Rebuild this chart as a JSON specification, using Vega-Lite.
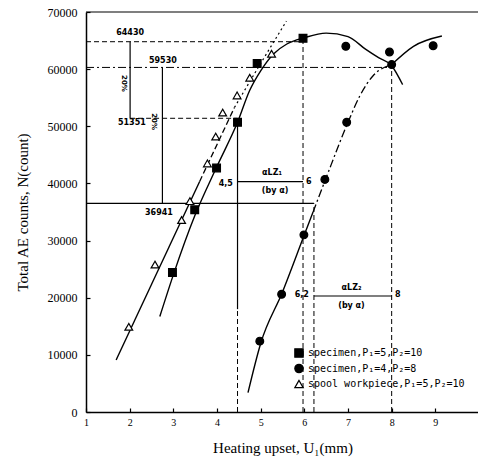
{
  "$schema": "https://vega.github.io/schema/vega-lite/v6.json",
  "width": 393,
  "height": 400,
  "autosize": "none",
  "padding": {"left": 86, "top": 12, "right": 0, "bottom": 46},
  "background": "white",
  "config": {"view": {"stroke": null}, "font": "Liberation Serif"},
  "datasets": {
    "points": [
      {"u": 2.98, "n": 24400, "series": "specimen,P₁=5,P₂=10"},
      {"u": 3.49, "n": 35400, "series": "specimen,P₁=5,P₂=10"},
      {"u": 3.99, "n": 42700, "series": "specimen,P₁=5,P₂=10"},
      {"u": 4.47, "n": 50700, "series": "specimen,P₁=5,P₂=10"},
      {"u": 4.92, "n": 61000, "series": "specimen,P₁=5,P₂=10"},
      {"u": 5.97, "n": 65400, "series": "specimen,P₁=5,P₂=10"},
      {"u": 4.98, "n": 12400, "series": "specimen,P₁=4,P₂=8"},
      {"u": 5.48, "n": 20600, "series": "specimen,P₁=4,P₂=8"},
      {"u": 5.99, "n": 31000, "series": "specimen,P₁=4,P₂=8"},
      {"u": 6.47, "n": 40700, "series": "specimen,P₁=4,P₂=8"},
      {"u": 6.97, "n": 50700, "series": "specimen,P₁=4,P₂=8"},
      {"u": 6.95, "n": 64000, "series": "specimen,P₁=4,P₂=8"},
      {"u": 7.95, "n": 63000, "series": "specimen,P₁=4,P₂=8"},
      {"u": 8.0, "n": 60800, "series": "specimen,P₁=4,P₂=8"},
      {"u": 8.95, "n": 64100, "series": "specimen,P₁=4,P₂=8"},
      {"u": 1.98, "n": 14900, "series": "spool workpiece,P₁=5,P₂=10"},
      {"u": 2.58, "n": 25800, "series": "spool workpiece,P₁=5,P₂=10"},
      {"u": 3.19, "n": 33600, "series": "spool workpiece,P₁=5,P₂=10"},
      {"u": 3.38, "n": 36900, "series": "spool workpiece,P₁=5,P₂=10"},
      {"u": 3.78, "n": 43500, "series": "spool workpiece,P₁=5,P₂=10"},
      {"u": 3.97, "n": 48200, "series": "spool workpiece,P₁=5,P₂=10"},
      {"u": 4.13, "n": 52400, "series": "spool workpiece,P₁=5,P₂=10"},
      {"u": 4.46, "n": 55400, "series": "spool workpiece,P₁=5,P₂=10"},
      {"u": 4.75, "n": 58500, "series": "spool workpiece,P₁=5,P₂=10"},
      {"u": 5.25, "n": 62700, "series": "spool workpiece,P₁=5,P₂=10"}
    ],
    "curves_solid": [
      {"u": 1.69, "n": 9100, "curve": "tri"},
      {"u": 3.6, "n": 40300, "curve": "tri"},
      {"u": 2.69, "n": 16700, "curve": "sq"},
      {"u": 3.0, "n": 24000, "curve": "sq"},
      {"u": 3.5, "n": 34500, "curve": "sq"},
      {"u": 4.0, "n": 43000, "curve": "sq"},
      {"u": 4.47, "n": 50700, "curve": "sq"},
      {"u": 4.75, "n": 56300, "curve": "sq"},
      {"u": 5.0, "n": 59700, "curve": "sq"},
      {"u": 5.3, "n": 62700, "curve": "sq"},
      {"u": 5.6, "n": 64400, "curve": "sq"},
      {"u": 6.0, "n": 65500, "curve": "sq"},
      {"u": 6.5, "n": 66300, "curve": "sq"},
      {"u": 7.0, "n": 65700, "curve": "sq"},
      {"u": 7.4, "n": 63500, "curve": "sq"},
      {"u": 7.7, "n": 62000, "curve": "sq"},
      {"u": 8.0, "n": 60600, "curve": "sq"},
      {"u": 8.25, "n": 57300, "curve": "sq"},
      {"u": 4.71, "n": 3400, "curve": "circ_low"},
      {"u": 5.0, "n": 12000, "curve": "circ_low"},
      {"u": 5.5, "n": 21000, "curve": "circ_low"},
      {"u": 6.0, "n": 31000, "curve": "circ_low"},
      {"u": 6.2, "n": 35000, "curve": "circ_low"},
      {"u": 8.0, "n": 60800, "curve": "circ_high"},
      {"u": 8.5, "n": 64000, "curve": "circ_high"},
      {"u": 9.15, "n": 65800, "curve": "circ_high"}
    ],
    "curves_dashed": [
      {"u": 3.6, "n": 40300, "curve": "tri_mid"},
      {"u": 4.4, "n": 53300, "curve": "tri_mid"}
    ],
    "curves_dotted": [
      {"u": 4.4, "n": 53300, "curve": "tri_top"},
      {"u": 5.0, "n": 61000, "curve": "tri_top"},
      {"u": 5.59, "n": 68400, "curve": "tri_top"}
    ],
    "curves_dashdot": [
      {"u": 6.2, "n": 35000, "curve": "circ_mid"},
      {"u": 6.5, "n": 41000, "curve": "circ_mid"},
      {"u": 7.0, "n": 50700, "curve": "circ_mid"},
      {"u": 7.27, "n": 55300, "curve": "circ_mid"},
      {"u": 7.57, "n": 58800, "curve": "circ_mid"},
      {"u": 8.0, "n": 60800, "curve": "circ_mid"}
    ],
    "refs_solid": [
      {"u": 1, "u2": 10, "n": 70000, "n2": 70000},
      {"u": 2.01, "u2": 2.01, "n": 51400, "n2": 64800},
      {"u": 2.75, "u2": 2.75, "n": 36500, "n2": 60300},
      {"u": 1, "u2": 6.22, "n": 36500, "n2": 36500},
      {"u": 4.47, "u2": 4.47, "n": 18000, "n2": 50700},
      {"u": 4.47, "u2": 5.97, "n": 40300, "n2": 40300},
      {"u": 6.22, "u2": 8.0, "n": 20300, "n2": 20300}
    ],
    "refs_dashed": [
      {"u": 1, "u2": 5.97, "n": 64800, "n2": 64800},
      {"u": 2.01, "u2": 4.47, "n": 51400, "n2": 51400},
      {"u": 4.47, "u2": 4.47, "n": 0, "n2": 18000},
      {"u": 5.97, "u2": 5.97, "n": 0, "n2": 65400},
      {"u": 6.22, "u2": 6.22, "n": 0, "n2": 36500},
      {"u": 8.0, "u2": 8.0, "n": 0, "n2": 60800}
    ],
    "refs_dashdot": [
      {"u": 1, "u2": 8.0, "n": 60300, "n2": 60300}
    ],
    "notes": [
      {"u": 2.01, "n": 66400, "label": "64430"},
      {"u": 2.76, "n": 61340, "label": "59530"},
      {"u": 2.05, "n": 50500, "label": "51351"},
      {"u": 2.67, "n": 34880, "label": "36941"},
      {"u": 4.2, "n": 39960, "label": "4,5"},
      {"u": 6.1, "n": 40300, "label": "6"},
      {"u": 5.26, "n": 41880, "label": "αLZ₁"},
      {"u": 5.33, "n": 38640, "label": "(by α)"},
      {"u": 5.94, "n": 20390, "label": "6,2"},
      {"u": 8.14, "n": 20560, "label": "8"},
      {"u": 7.08, "n": 21740, "label": "αLZ₂"},
      {"u": 7.08, "n": 18520, "label": "(by α)"}
    ],
    "notes_rotated": [
      {"u": 1.88, "n": 57490, "label": "20%"},
      {"u": 2.56, "n": 50820, "label": "20%"}
    ]
  },
  "layer": [
    {
      "data": {"name": "refs_solid"},
      "mark": {"type": "rule", "color": "black", "strokeWidth": 1.2},
      "encoding": {
        "x": {"field": "u", "type": "quantitative", "scale": {"domain": [1, 10], "nice": false, "zero": false},
          "axis": {"values": [1, 2, 3, 4, 5, 6, 7, 8, 9], "format": "d", "grid": false,
            "title": "Heating upset, U₁(mm)", "titleFont": "Liberation Serif", "titleFontSize": 15, "titleFontWeight": "normal",
            "titleColor": "black", "titleY": 40, "titleBaseline": "alphabetic",
            "labelFont": "Liberation Serif", "labelFontSize": 10, "labelColor": "black", "labelPadding": 9, "labelFlush": false,
            "tickSize": -4, "tickColor": "black", "tickWidth": 1.2, "domainColor": "black", "domainWidth": 1.5}},
        "x2": {"field": "u2"},
        "y": {"field": "n", "type": "quantitative", "scale": {"domain": [0, 70000], "nice": false, "zero": false},
          "axis": {"values": [0, 5000, 10000, 15000, 20000, 25000, 30000, 35000, 40000, 45000, 50000, 55000, 60000, 65000, 70000],
            "labelExpr": "datum.value % 10000 === 0 ? datum.label : ''", "format": "d", "grid": false,
            "title": "Total AE counts, N(count)", "titleFont": "Liberation Serif", "titleFontSize": 15, "titleFontWeight": "normal",
            "titleColor": "black", "titleX": -59, "titleBaseline": "alphabetic",
            "labelFont": "Liberation Serif", "labelFontSize": 12, "labelColor": "black", "labelPadding": 13,
            "tickSize": -4, "tickColor": "black", "tickWidth": 1.2, "domainColor": "black", "domainWidth": 1.5}},
        "y2": {"field": "n2"}
      }
    },
    {
      "data": {"name": "refs_dashed"},
      "mark": {"type": "rule", "color": "black", "strokeWidth": 1, "strokeDash": [5, 3]},
      "encoding": {
        "x": {"field": "u", "type": "quantitative"},
        "x2": {"field": "u2"},
        "y": {"field": "n", "type": "quantitative"},
        "y2": {"field": "n2"}
      }
    },
    {
      "data": {"name": "refs_dashdot"},
      "mark": {"type": "rule", "color": "black", "strokeWidth": 1, "strokeDash": [8, 3, 2, 3]},
      "encoding": {
        "x": {"field": "u", "type": "quantitative"},
        "x2": {"field": "u2"},
        "y": {"field": "n", "type": "quantitative"},
        "y2": {"field": "n2"}
      }
    },
    {
      "data": {"name": "curves_solid"},
      "mark": {"type": "line", "color": "black", "strokeWidth": 1.4, "interpolate": "monotone"},
      "encoding": {
        "x": {"field": "u", "type": "quantitative"},
        "y": {"field": "n", "type": "quantitative"},
        "detail": {"field": "curve"}
      }
    },
    {
      "data": {"name": "curves_dashed"},
      "mark": {"type": "line", "color": "black", "strokeWidth": 1.3, "strokeDash": [6, 3]},
      "encoding": {
        "x": {"field": "u", "type": "quantitative"},
        "y": {"field": "n", "type": "quantitative"},
        "detail": {"field": "curve"}
      }
    },
    {
      "data": {"name": "curves_dotted"},
      "mark": {"type": "line", "color": "black", "strokeWidth": 1.2, "strokeDash": [2, 3], "interpolate": "monotone"},
      "encoding": {
        "x": {"field": "u", "type": "quantitative"},
        "y": {"field": "n", "type": "quantitative"},
        "detail": {"field": "curve"}
      }
    },
    {
      "data": {"name": "curves_dashdot"},
      "mark": {"type": "line", "color": "black", "strokeWidth": 1.3, "strokeDash": [8, 3, 2, 3], "interpolate": "monotone"},
      "encoding": {
        "x": {"field": "u", "type": "quantitative"},
        "y": {"field": "n", "type": "quantitative"},
        "detail": {"field": "curve"}
      }
    },
    {
      "data": {"name": "points"},
      "mark": {"type": "point", "filled": true, "strokeWidth": 1.2, "size": 60, "opacity": 1},
      "encoding": {
        "x": {"field": "u", "type": "quantitative"},
        "y": {"field": "n", "type": "quantitative"},
        "shape": {"field": "series", "type": "nominal",
          "scale": {"domain": ["specimen,P₁=5,P₂=10", "specimen,P₁=4,P₂=8", "spool workpiece,P₁=5,P₂=10"], "range": ["square", "circle", "triangle-up"]},
          "legend": {"orient": "none", "legendX": 208, "legendY": 336, "title": null, "padding": 0,
            "labelFont": "DejaVu Sans Mono", "labelFontSize": 10, "labelColor": "black", "labelOffset": 4,
            "symbolSize": 70, "rowPadding": 1.5, "symbolStrokeWidth": 1.2, "symbolOpacity": 1}},
        "fill": {"field": "series", "type": "nominal",
          "scale": {"domain": ["specimen,P₁=5,P₂=10", "specimen,P₁=4,P₂=8", "spool workpiece,P₁=5,P₂=10"], "range": ["black", "black", "white"]}},
        "stroke": {"field": "series", "type": "nominal",
          "scale": {"domain": ["specimen,P₁=5,P₂=10", "specimen,P₁=4,P₂=8", "spool workpiece,P₁=5,P₂=10"], "range": ["black", "black", "black"]}}
      }
    },
    {
      "data": {"name": "notes"},
      "mark": {"type": "text", "color": "black", "font": "DejaVu Sans", "fontSize": 8, "fontWeight": "bold", "align": "center", "baseline": "middle"},
      "encoding": {
        "x": {"field": "u", "type": "quantitative"},
        "y": {"field": "n", "type": "quantitative"},
        "text": {"field": "label"}
      }
    },
    {
      "data": {"name": "notes_rotated"},
      "mark": {"type": "text", "color": "black", "font": "DejaVu Sans", "fontSize": 7, "fontWeight": "bold", "align": "center", "baseline": "middle", "angle": 90},
      "encoding": {
        "x": {"field": "u", "type": "quantitative"},
        "y": {"field": "n", "type": "quantitative"},
        "text": {"field": "label"}
      }
    }
  ]
}
